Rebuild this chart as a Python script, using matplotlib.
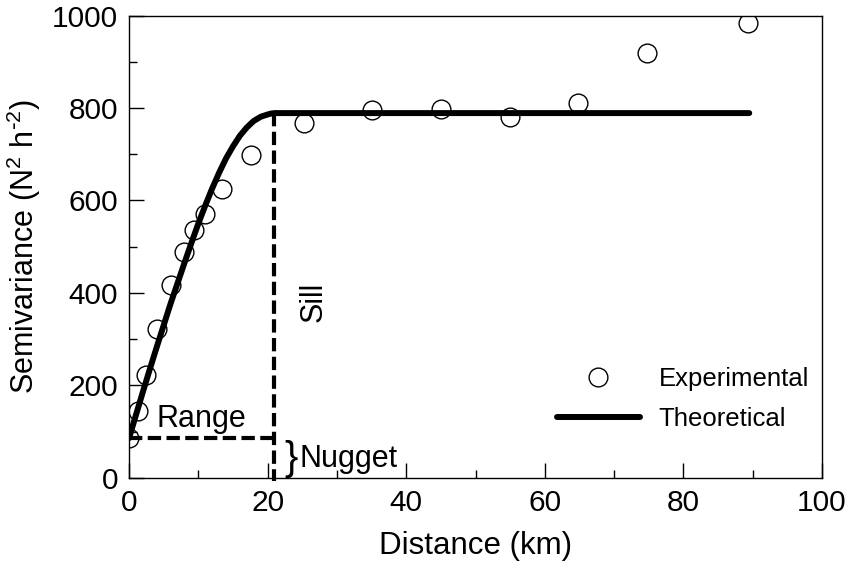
import matplotlib
matplotlib.use("Agg")
import matplotlib.pyplot as plt
from matplotlib.lines import Line2D
from matplotlib.ticker import MultipleLocator

plt.rcParams['font.family'] = ['Liberation Sans', 'DejaVu Sans']
plt.rcParams['mathtext.default'] = 'regular'

# Experimental semivariogram
exp_dist = [0.0, 1.3, 2.5, 4.0, 6.0, 8.0, 9.4, 11.0, 13.4, 17.6, 25.2, 35.0, 45.0, 55.0, 64.8, 74.7, 89.3]
exp_semi = [86, 145, 223, 322, 417, 489, 536, 571, 625, 698, 768, 796, 798, 780, 811, 919, 984]

# Theoretical (fitted) model
th_dist = [0, 1, 2, 3, 4, 5, 6, 7, 8, 9, 10, 11, 12, 13, 14, 15, 16, 17, 18, 19, 20, 20.5, 21, 21.5, 30, 50, 70, 89.5]
th_semi = [86, 136, 186, 235, 283, 330, 377, 421, 465, 508, 550, 589, 626, 660, 691, 717, 740, 758, 772, 781, 786, 788, 789, 789, 789, 789, 789, 789]

nugget = 86
sill = 789
range_km = 20.9

fig = plt.figure(figsize=(8.47, 5.62), dpi=100)
ax = fig.add_axes([0.1523, 0.1495, 0.8182, 0.8229])

ax.plot(exp_dist, exp_semi, linestyle='none', marker='o', markersize=13.5,
        markerfacecolor='none', markeredgecolor='black', markeredgewidth=1.0,
        label='Experimental', zorder=2)
ax.plot(th_dist, th_semi, color='black', linewidth=4.3, solid_capstyle='round',
        solid_joinstyle='round', label='Theoretical', zorder=3)

# Range / sill guides
ax.plot([0, range_km], [nugget, nugget], color='black', linestyle=(0, (3.2, 1.3)),
        linewidth=3, zorder=4)
ax.plot([range_km, range_km], [sill, -6], color='black', linestyle=(0, (3.2, 1.3)),
        linewidth=3, zorder=4, clip_on=False)

ax.text(10.5, 128, 'Range', fontsize=22, ha='center', va='center')
ax.text(26.6, 380, 'Sill', fontsize=22, ha='center', va='center', rotation=90)
ax.text(23.4, 40, '}', fontsize=29, ha='center', va='center')
ax.text(24.6, 42, 'Nugget', fontsize=22, ha='left', va='center')

ax.set_xlim(0, 100)
ax.set_ylim(0, 1000)
ax.xaxis.set_major_locator(MultipleLocator(20))
ax.xaxis.set_minor_locator(MultipleLocator(10))
ax.yaxis.set_major_locator(MultipleLocator(200))
ax.yaxis.set_minor_locator(MultipleLocator(100))
ax.tick_params(which='both', direction='in', top=False, right=False,
               labelsize=21.5, width=1, pad=8)
ax.tick_params(which='major', length=11)
ax.tick_params(which='minor', length=6)
for s in ax.spines.values():
    s.set_linewidth(1)

ax.set_xlabel('Distance (km)', fontsize=22.5)
ax.set_ylabel(r'Semivariance (N$^2$ h$^{\text{-}2}$)', fontsize=22)
ax.xaxis.set_label_coords(0.5, -0.115)
ax.yaxis.set_label_coords(-0.124, 0.5)

handles = [Line2D([], [], linestyle='none', marker='o', markersize=13.5,
                  markerfacecolor='none', markeredgecolor='black', markeredgewidth=1.0),
           Line2D([], [], color='black', linewidth=4.3, solid_capstyle='round')]
ax.legend(handles, ['Experimental', 'Theoretical'], loc='upper left',
          bbox_to_anchor=(0.618, 0.239), frameon=False, fontsize=18.5,
          handlelength=3.2, handletextpad=0.75, labelspacing=0.6,
          borderpad=0, borderaxespad=0)

fig.savefig('out.png', dpi=100)
